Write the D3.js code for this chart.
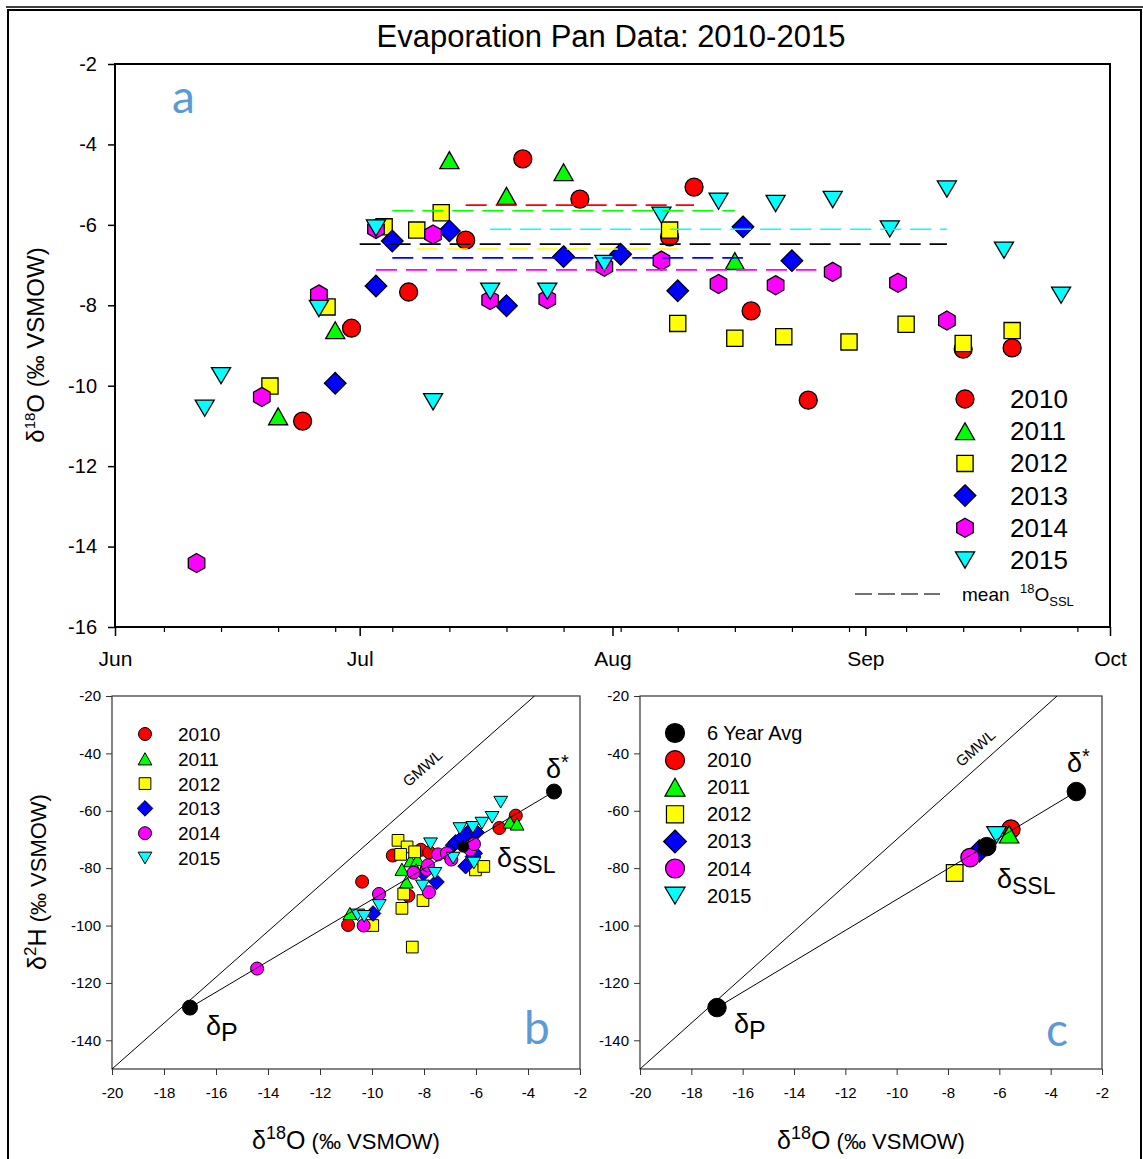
<!DOCTYPE html>
<html>
<head>
<meta charset="utf-8">
<script src="https://cdn.jsdelivr.net/npm/d3@7"></script>
<style>
  body { margin: 0; background: #fff; }
  svg { display: block; }
  text { font-family: "Liberation Sans", Arial, sans-serif; fill: #000; }
</style>
</head>
<body>
<svg id="fig" width="1143" height="1159"></svg>
<script>
// ---------- series definitions ----------
const years   = ["2010", "2011", "2012", "2013", "2014", "2015"];
const colors  = ["#ff0000", "#00ff00", "#ffff00", "#0000ff", "#ff00ff", "#00ffff"];
const shapesA = ["circle", "triUp", "square", "diamond", "hexagon", "triDown"];
const shapesB = ["circle", "triUp", "square", "diamond", "circle", "triDown"];

// ---------- panel a: pan samples (month-day, δ18O ‰) ----------
const dates2010 = ["06-24","06-30","07-07","07-14","07-21","07-28","08-08","08-11","08-18","08-25","09-13","09-19"];
const o18_2010  = [-10.88, -8.57, -7.67, -6.38, -4.36, -5.36, -6.30, -5.06, -8.14, -10.36, -9.09, -9.06];
const dates2011 = ["06-21","06-28","07-12","07-19","07-26","08-16"];
const o18_2011  = [-10.76, -8.62, -4.39, -5.28, -4.69, -6.90];
const dates2012 = ["06-20","06-27","07-04","07-08","07-11","08-08","08-09","08-16","08-22","08-30","09-06","09-13","09-19"];
const o18_2012  = [-10.01, -8.04, -6.05, -6.13, -5.70, -6.13, -8.45, -8.82, -8.78, -8.91, -8.47, -8.95, -8.63];
const dates2013 = ["06-28","07-03","07-05","07-12","07-19","07-26","08-02","08-09","08-17","08-23"];
const o18_2013  = [-9.94, -7.52, -6.40, -6.15, -8.01, -6.79, -6.73, -7.64, -6.05, -6.89];
const dates2014 = ["06-11","06-19","06-26","07-03","07-10","07-17","07-24","07-31","08-07","08-14","08-21","08-28","09-05","09-11"];
const o18_2014  = [-14.41, -10.28, -7.73, -6.10, -6.24, -7.87, -7.85, -7.04, -6.89, -7.47, -7.50, -7.17, -7.44, -8.38];
const dates2015 = ["06-12","06-14","06-26","07-03","07-10","07-17","07-24","07-31","08-07","08-14","08-21","08-28","09-04","09-11","09-18","09-25"];
const o18_2015  = [-10.56, -9.75, -8.08, -6.08, -10.40, -7.65, -7.65, -6.96, -5.76, -5.41, -5.47, -5.37, -6.10, -5.11, -6.63, -7.75];

// mean steady-state δ18O per season (index 6 = all years)
const meanValues = [-5.51, -5.65, -6.60, -6.82, -7.12, -6.11, -6.48];
const meanStart  = ["07-14","07-05","07-08","07-05","07-03","07-17","07-01"];
const meanEnd    = ["08-11","08-16","08-09","08-17","08-26","09-11","09-11"];

const yTicksA  = [-2, -4, -6, -8, -10, -12, -14, -16];

// ---------- panel b: δ18O / δ2H pairs ----------
const dual2010 = [[-10.92,-99.8],[-10.38,-84.7],[-9.2,-75.6],[-8.6,-89.6],[-8.12,-73.6],[-7.8,-74.5],[-6.31,-70.2],[-5.1,-66.0],[-4.47,-61.7]];
const dual2011 = [[-10.85,-95.8],[-8.85,-80.4],[-8.68,-84.8],[-8.52,-77.4],[-8.25,-77.0],[-8.3,-80.6],[-6.4,-68.0],[-4.7,-63.9],[-4.42,-64.6]];
const dual2012 = [[-9.0,-70.3],[-8.65,-72.6],[-8.9,-75.2],[-8.36,-74.3],[-8.78,-89.0],[-8.85,-94.0],[-8.04,-91.3],[-9.97,-100.0],[-8.45,-107.5],[-6.02,-80.6],[-5.7,-79.4]];
const dual2013 = [[-9.96,-95.8],[-7.52,-84.8],[-8.02,-81.8],[-6.88,-72.0],[-6.78,-71.0],[-6.56,-69.6],[-6.4,-79.3],[-6.12,-76.0],[-6.05,-74.8],[-6.24,-67.0],[-5.98,-67.5]];
const dual2014 = [[-14.42,-115.0],[-10.32,-100.0],[-9.73,-89.0],[-8.4,-81.6],[-7.9,-80.4],[-7.81,-88.4],[-7.85,-79.0],[-7.46,-75.2],[-7.12,-74.8],[-6.95,-77.0],[-6.22,-73.5],[-6.08,-71.6]];
const dual2015 = [[-10.55,-96.3],[-10.3,-96.8],[-9.72,-93.0],[-8.06,-86.2],[-7.58,-81.8],[-7.75,-71.5],[-6.88,-76.5],[-6.08,-78.2],[-6.62,-66.2],[-6.12,-65.8],[-5.77,-64.3],[-5.38,-62.3],[-5.05,-57.0]];

// ---------- panel c: seasonal steady-state values ----------
const sslO18 = [-5.55, -5.62, -7.74, -6.78, -7.14, -6.11];
const sslH2  = [-66.4, -68.2, -81.7, -74.0, -76.3, -68.4];
const avgSSL    = [-6.49, -72.5];
const deltaP    = [-17.0, -128.6];
const deltaStar = [-3.0, -53.3];
const gmwlSlope = 8, gmwlIntercept = 10;

const xTicksBC = [-20, -18, -16, -14, -12, -10, -8, -6, -4, -2];
const yTicksBC = [-20, -40, -60, -80, -100, -120, -140];

// ---------- helpers ----------
const svg = d3.select("#fig");
const panelColor = "#5b9bd5";

function shapePath(shape, s) {
  if (shape === "circle") {
    const p = d3.path();
    p.moveTo(s / 2, 0);
    p.arc(0, 0, s / 2, 0, 2 * Math.PI);
    p.closePath();
    return p.toString();
  }
  let pts;
  if (shape === "square") { const h = s * 0.45; pts = [[-h,-h],[h,-h],[h,h],[-h,h]]; }
  else if (shape === "triUp") { const w = s * 0.53, h = s * 0.47; pts = [[0,-h],[w,h],[-w,h]]; }
  else if (shape === "triDown") { const w = s * 0.53, h = s * 0.45; pts = [[-w,-h],[w,-h],[0,h]]; }
  else if (shape === "diamond") { const r = s * 0.6; pts = [[0,-r],[r,0],[0,r],[-r,0]]; }
  else if (shape === "hexagon") {
    const r = s * 0.53;
    pts = d3.range(6).map(k => [r * Math.cos(Math.PI / 3 * k - Math.PI / 2), r * Math.sin(Math.PI / 3 * k - Math.PI / 2)]);
  }
  return "M" + pts.map(p => p[0].toFixed(2) + "," + p[1].toFixed(2)).join("L") + "Z";
}

function marker(g, shape, size, fill, x, y, sw) {
  g.append("path")
    .attr("d", shapePath(shape, size))
    .attr("transform", `translate(${x},${y})`)
    .attr("fill", fill)
    .attr("stroke", "#000")
    .attr("stroke-width", sw || 1.3);
}

const parseMD = md => { const [m, d] = md.split("-").map(Number); return new Date(2015, m - 1, d); };

function styleAxis(g, fontSize, color, width) {
  g.select(".domain").remove();
  g.selectAll(".tick line").attr("stroke", color).attr("stroke-width", width);
  g.selectAll(".tick text").attr("fill", "#000").style("font-size", fontSize + "px")
    .style("font-family", '"Liberation Sans", Arial, sans-serif');
}

// ---------- outer frame ----------
svg.append("line").attr("x1", 6).attr("x2", 1143).attr("y1", 7).attr("y2", 7)
  .attr("stroke", "#000").attr("stroke-width", 1.5);
svg.append("rect").attr("x", 8).attr("y", 10).attr("width", 1133).attr("height", 1170)
  .attr("fill", "none").attr("stroke", "#000").attr("stroke-width", 2);

// ================= panel a =================
const ax = d3.scaleTime().domain([new Date(2015, 5, 1), new Date(2015, 9, 1)]).range([115, 1110]);
const ay = d3.scaleLinear().domain([-16, -2]).range([627, 64]);
const gA = svg.append("g");

svg.append("text").attr("x", 611).attr("y", 47).attr("text-anchor", "middle")
  .style("font-size", "31px").text("Evaporation Pan Data: 2010-2015");

// axes
const yAxA = gA.append("g").attr("transform", "translate(115,0)")
  .call(d3.axisLeft(ay).tickValues(yTicksA).tickSize(7).tickPadding(11).tickFormat(d => String(d)));
styleAxis(yAxA, 20, "#000", 1.5);
const xMinor = gA.append("g").attr("transform", "translate(0,627)")
  .call(d3.axisBottom(ax).ticks(d3.timeSunday).tickSize(5).tickFormat(""));
styleAxis(xMinor, 20, "#000", 1.2);
const xMajor = gA.append("g").attr("transform", "translate(0,627)")
  .call(d3.axisBottom(ax).ticks(d3.timeMonth).tickSize(9).tickPadding(15).tickFormat(d3.timeFormat("%b")));
styleAxis(xMajor, 21, "#000", 1.5);

gA.append("rect").attr("x", 115).attr("y", 64).attr("width", 995).attr("height", 563)
  .attr("fill", "none").attr("stroke", "#000").attr("stroke-width", 2);

// markers
const datesA = [dates2010, dates2011, dates2012, dates2013, dates2014, dates2015];
const o18A   = [o18_2010, o18_2011, o18_2012, o18_2013, o18_2014, o18_2015];
const markA = gA.append("g");
years.forEach((yr, i) => {
  datesA[i].forEach((md, j) => {
    marker(markA, shapesA[i], 18, colors[i], ax(parseMD(md)), ay(o18A[i][j]));
  });
});

// seasonal mean lines
const meanColors = colors.concat(["#000000"]);
meanValues.forEach((v, i) => {
  gA.append("line")
    .attr("x1", ax(parseMD(meanStart[i]))).attr("x2", ax(parseMD(meanEnd[i])))
    .attr("y1", ay(v)).attr("y2", ay(v))
    .attr("stroke", meanColors[i]).attr("stroke-width", 1.6)
    .attr("stroke-dasharray", "21,9");
});

// panel letter
svg.append("text").attr("x", 172).attr("y", 113).style("font-family", "Lato, sans-serif")
  .style("font-size", "46px").style("fill", panelColor).text("a");

// y label
const yLabA = svg.append("text").attr("transform", "translate(44,345) rotate(-90)")
  .attr("text-anchor", "middle").style("font-size", "24px");
yLabA.append("tspan").text("δ");
yLabA.append("tspan").attr("dy", -9).style("font-size", "15px").text("18");
yLabA.append("tspan").attr("dy", 9).text("O (‰ VSMOW)");

// legend
const legA = svg.append("g");
years.forEach((yr, i) => {
  const y = 399 + i * 32.2;
  marker(legA, shapesA[i], 18, colors[i], 965, y);
  legA.append("text").attr("x", 1010).attr("y", y + 9).style("font-size", "26px").text(yr);
});
legA.append("line").attr("x1", 855).attr("x2", 940).attr("y1", 594).attr("y2", 594)
  .attr("stroke", "#444").attr("stroke-width", 1.4).attr("stroke-dasharray", "17,6");
const mlab = legA.append("text").attr("x", 962).attr("y", 601).style("font-size", "19px");
mlab.append("tspan").text("mean");
mlab.append("tspan").attr("x", 1020).attr("dy", -8).style("font-size", "13px").text("18");
mlab.append("tspan").attr("dy", 8).text("O");
mlab.append("tspan").attr("dy", 5).style("font-size", "13px").text("SSL");

// ================= panels b and c =================
function dualPanel(x0, x1, letter, opts) {
  const x = d3.scaleLinear().domain([-20, -2]).range([x0, x1]);
  const y = d3.scaleLinear().domain([-150, -20]).range([1069, 696]);
  const g = svg.append("g");

  const yAx = g.append("g").attr("transform", `translate(${x0},0)`)
    .call(d3.axisLeft(y).tickValues(yTicksBC).tickSize(6).tickPadding(5).tickFormat(d => String(d)));
  styleAxis(yAx, 15, "#333", 1);
  const xAx = g.append("g").attr("transform", "translate(0,1069)")
    .call(d3.axisBottom(x).tickValues(xTicksBC).tickSize(6).tickPadding(12).tickFormat(d => String(d)));
  styleAxis(xAx, 15, "#333", 1);
  g.append("rect").attr("x", x0).attr("y", 696).attr("width", x1 - x0).attr("height", 373)
    .attr("fill", "none").attr("stroke", "#333").attr("stroke-width", 1.2);

  // x label
  const xl = svg.append("text").attr("x", (x0 + x1) / 2).attr("y", 1149)
    .attr("text-anchor", "middle").style("font-size", "25px");
  xl.append("tspan").text("δ");
  xl.append("tspan").attr("dy", -10).style("font-size", "18px").text("18");
  xl.append("tspan").attr("dy", 10).text("O");
  xl.append("tspan").style("font-size", "22px").text(" (‰ VSMOW)");

  const plot = g.append("g");
  opts.drawPoints(plot, x, y);

  // meteoric water line and evaporation line
  const gEndX = (-20 - gmwlIntercept) / gmwlSlope;
  plot.append("line").attr("x1", x(-20)).attr("y1", y(-20 * gmwlSlope + gmwlIntercept))
    .attr("x2", x(gEndX)).attr("y2", y(-20)).attr("stroke", "#000").attr("stroke-width", 1);
  plot.append("line").attr("x1", x(deltaP[0])).attr("y1", y(deltaP[1]))
    .attr("x2", x(deltaStar[0])).attr("y2", y(deltaStar[1])).attr("stroke", "#000").attr("stroke-width", 1);

  opts.drawEnds(plot, x, y);

  // GMWL label along the line
  const ang = Math.atan2(y(-20) - y(-20 * gmwlSlope + gmwlIntercept), x(gEndX) - x(-20)) * 180 / Math.PI;
  svg.append("text").attr("transform", `translate(${opts.gmwl[0]},${opts.gmwl[1]}) rotate(${ang})`)
    .attr("text-anchor", "middle").style("font-size", "15px").text("GMWL");

  // end-member labels
  const ds = svg.append("text").attr("x", opts.star[0]).attr("y", opts.star[1]).style("font-size", "27px");
  ds.append("tspan").text("δ");
  ds.append("tspan").attr("dy", -9).style("font-size", "20px").text("*");
  const dssl = svg.append("text").attr("x", opts.ssl[0]).attr("y", opts.ssl[1]).style("font-size", "27px");
  dssl.append("tspan").text("δ");
  dssl.append("tspan").attr("dy", 6).style("font-size", "23px").text("SSL");
  const dp = svg.append("text").attr("x", opts.p[0]).attr("y", opts.p[1]).style("font-size", "27px");
  dp.append("tspan").text("δ");
  dp.append("tspan").attr("dy", 6).style("font-size", "25px").text("P");

  svg.append("text").attr("x", opts.letter[0]).attr("y", opts.letter[1])
    .style("font-family", "Lato, sans-serif").style("font-size", "46px")
    .style("fill", panelColor).text(letter);
  return { x, y };
}

// y label for lower panels
const yLabB = svg.append("text").attr("transform", "translate(46,882) rotate(-90)")
  .attr("text-anchor", "middle").style("font-size", "25px");
yLabB.append("tspan").text("δ");
yLabB.append("tspan").attr("dy", -10).style("font-size", "17px").text("2");
yLabB.append("tspan").attr("dy", 10).text("H");
yLabB.append("tspan").style("font-size", "22px").text(" (‰ VSMOW)");

// panel b
const dualData = [dual2010, dual2011, dual2012, dual2013, dual2014, dual2015];
dualPanel(112, 580, "b", {
  drawPoints: (g, x, y) => {
    dualData.forEach((arr, i) => arr.forEach(d => marker(g, shapesB[i], 13, colors[i], x(d[0]), y(d[1]), 1)));
  },
  drawEnds: (g, x, y) => {
    marker(g, "circle", 11, "#000", x(avgSSL[0]), y(avgSSL[1]), 1);
    marker(g, "circle", 15, "#000", x(deltaP[0]), y(deltaP[1]), 1);
    marker(g, "circle", 15, "#000", x(deltaStar[0]), y(deltaStar[1]), 1);
  },
  gmwl: [426, 772], star: [546, 778], ssl: [497, 867], p: [206, 1035], letter: [524, 1044]
});
const legB = svg.append("g");
years.forEach((yr, i) => {
  const yy = 734 + i * 24.8;
  marker(legB, shapesB[i], 13, colors[i], 145, yy, 1);
  legB.append("text").attr("x", 178).attr("y", yy + 7).style("font-size", "19px").text(yr);
});

// panel c
dualPanel(640, 1102, "c", {
  drawPoints: (g, x, y) => {
    sslO18.forEach((v, i) => marker(g, shapesB[i], 18.5, colors[i], x(v), y(sslH2[i]), 1.2));
  },
  drawEnds: (g, x, y) => {
    marker(g, "circle", 18.5, "#000", x(avgSSL[0]), y(avgSSL[1]), 1);
    marker(g, "circle", 18.5, "#000", x(deltaP[0]), y(deltaP[1]), 1);
    marker(g, "circle", 18.5, "#000", x(deltaStar[0]), y(deltaStar[1]), 1);
  },
  gmwl: [979, 752], star: [1067, 772], ssl: [997, 888], p: [734, 1033], letter: [1046, 1046]
});
const legC = svg.append("g");
const legCLabels = ["6 Year Avg"].concat(years);
const legCShapes = ["circle"].concat(shapesB);
const legCColors = ["#000000"].concat(colors);
legCLabels.forEach((lab, i) => {
  const yy = 733 + i * 27.1;
  marker(legC, legCShapes[i], 19, legCColors[i], 675, yy, 1.2);
  legC.append("text").attr("x", 707).attr("y", yy + 7).style("font-size", "20px").text(lab);
});
</script>
</body>
</html>
